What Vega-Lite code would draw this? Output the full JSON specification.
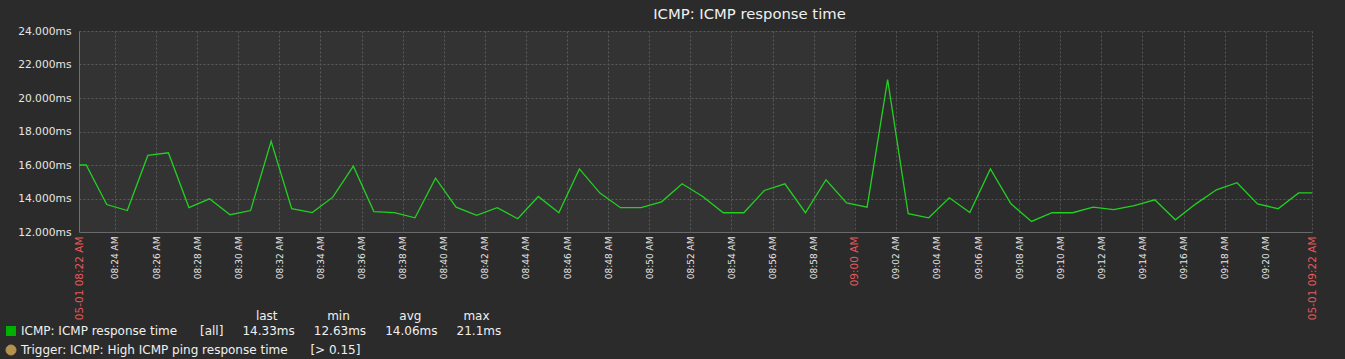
{
  "$schema": "https://vega.github.io/schema/vega-lite/v6.json",
  "width": 1233,
  "height": 201,
  "autosize": {"type": "none"},
  "padding": {"left": 79, "top": 31, "right": 33, "bottom": 127},
  "background": "#2b2b2b",
  "title": {
    "text": "ICMP: ICMP response time",
    "anchor": "middle",
    "frame": "group",
    "dx": 54,
    "offset": 3,
    "font": "DejaVu Sans",
    "fontSize": 14.8,
    "fontWeight": "normal",
    "color": "#f0f0f0"
  },
  "config": {
    "view": {"fill": "#2c2c2c", "stroke": null},
    "font": "DejaVu Sans"
  },
  "datasets": {
    "series": [
      {"t": "2024-05-01T08:22:15", "v": 16.0},
      {"t": "2024-05-01T08:22:36", "v": 16.0},
      {"t": "2024-05-01T08:23:36", "v": 13.64},
      {"t": "2024-05-01T08:24:36", "v": 13.28},
      {"t": "2024-05-01T08:25:36", "v": 16.57},
      {"t": "2024-05-01T08:26:36", "v": 16.73},
      {"t": "2024-05-01T08:27:36", "v": 13.46},
      {"t": "2024-05-01T08:28:36", "v": 13.98},
      {"t": "2024-05-01T08:29:36", "v": 13.03},
      {"t": "2024-05-01T08:30:36", "v": 13.28},
      {"t": "2024-05-01T08:31:36", "v": 17.42},
      {"t": "2024-05-01T08:32:36", "v": 13.39},
      {"t": "2024-05-01T08:33:36", "v": 13.16},
      {"t": "2024-05-01T08:34:36", "v": 14.08},
      {"t": "2024-05-01T08:35:36", "v": 15.93},
      {"t": "2024-05-01T08:36:36", "v": 13.22},
      {"t": "2024-05-01T08:37:36", "v": 13.16},
      {"t": "2024-05-01T08:38:36", "v": 12.85},
      {"t": "2024-05-01T08:39:36", "v": 15.21},
      {"t": "2024-05-01T08:40:36", "v": 13.48},
      {"t": "2024-05-01T08:41:36", "v": 12.99},
      {"t": "2024-05-01T08:42:36", "v": 13.45},
      {"t": "2024-05-01T08:43:36", "v": 12.79},
      {"t": "2024-05-01T08:44:36", "v": 14.12},
      {"t": "2024-05-01T08:45:36", "v": 13.15},
      {"t": "2024-05-01T08:46:36", "v": 15.77},
      {"t": "2024-05-01T08:47:36", "v": 14.32},
      {"t": "2024-05-01T08:48:36", "v": 13.45},
      {"t": "2024-05-01T08:49:36", "v": 13.45},
      {"t": "2024-05-01T08:50:36", "v": 13.8},
      {"t": "2024-05-01T08:51:36", "v": 14.88},
      {"t": "2024-05-01T08:52:36", "v": 14.12},
      {"t": "2024-05-01T08:53:36", "v": 13.15},
      {"t": "2024-05-01T08:54:36", "v": 13.15},
      {"t": "2024-05-01T08:55:36", "v": 14.48},
      {"t": "2024-05-01T08:56:36", "v": 14.88},
      {"t": "2024-05-01T08:57:36", "v": 13.15},
      {"t": "2024-05-01T08:58:36", "v": 15.12},
      {"t": "2024-05-01T08:59:36", "v": 13.74},
      {"t": "2024-05-01T09:00:36", "v": 13.48},
      {"t": "2024-05-01T09:01:36", "v": 21.1},
      {"t": "2024-05-01T09:02:36", "v": 13.09},
      {"t": "2024-05-01T09:03:36", "v": 12.85},
      {"t": "2024-05-01T09:04:36", "v": 14.04},
      {"t": "2024-05-01T09:05:36", "v": 13.16},
      {"t": "2024-05-01T09:06:36", "v": 15.77},
      {"t": "2024-05-01T09:07:36", "v": 13.68},
      {"t": "2024-05-01T09:08:36", "v": 12.63},
      {"t": "2024-05-01T09:09:36", "v": 13.15},
      {"t": "2024-05-01T09:10:36", "v": 13.15},
      {"t": "2024-05-01T09:11:36", "v": 13.48},
      {"t": "2024-05-01T09:12:36", "v": 13.34},
      {"t": "2024-05-01T09:13:36", "v": 13.58},
      {"t": "2024-05-01T09:14:36", "v": 13.92},
      {"t": "2024-05-01T09:15:36", "v": 12.73},
      {"t": "2024-05-01T09:16:36", "v": 13.68},
      {"t": "2024-05-01T09:17:36", "v": 14.52},
      {"t": "2024-05-01T09:18:36", "v": 14.94},
      {"t": "2024-05-01T09:19:36", "v": 13.68},
      {"t": "2024-05-01T09:20:36", "v": 13.39},
      {"t": "2024-05-01T09:21:36", "v": 14.33},
      {"t": "2024-05-01T09:22:15", "v": 14.33}
    ],
    "period": [
      {"start": "2024-05-01T08:22:15", "end": "2024-05-01T09:00:00"}
    ]
  },
  "layer": [
    {
      "data": {"name": "period"},
      "mark": {"type": "rect", "color": "#ffffff", "opacity": 0.035},
      "encoding": {
        "x": {"field": "start", "type": "temporal", "scale": {"domain": [{"year": 2024, "month": 5, "date": 1, "hours": 8, "minutes": 22, "seconds": 15}, {"year": 2024, "month": 5, "date": 1, "hours": 9, "minutes": 22, "seconds": 15}]}},
        "x2": {"field": "end"}
      }
    },
    {
      "data": {"name": "series"},
      "transform": [{"calculate": "'ICMP: ICMP response time'", "as": "s"}],
      "mark": {"type": "line", "strokeWidth": 1.3, "interpolate": "linear"},
      "encoding": {
        "x": {
          "field": "t",
          "type": "temporal",
          "scale": {"domain": [{"year": 2024, "month": 5, "date": 1, "hours": 8, "minutes": 22, "seconds": 15}, {"year": 2024, "month": 5, "date": 1, "hours": 9, "minutes": 22, "seconds": 15}]},
          "axis": {
            "title": null,
            "values": [
              {"year": 2024, "month": 5, "date": 1, "hours": 8, "minutes": 22, "seconds": 15},
              {"year": 2024, "month": 5, "date": 1, "hours": 8, "minutes": 24},
              {"year": 2024, "month": 5, "date": 1, "hours": 8, "minutes": 26},
              {"year": 2024, "month": 5, "date": 1, "hours": 8, "minutes": 28},
              {"year": 2024, "month": 5, "date": 1, "hours": 8, "minutes": 30},
              {"year": 2024, "month": 5, "date": 1, "hours": 8, "minutes": 32},
              {"year": 2024, "month": 5, "date": 1, "hours": 8, "minutes": 34},
              {"year": 2024, "month": 5, "date": 1, "hours": 8, "minutes": 36},
              {"year": 2024, "month": 5, "date": 1, "hours": 8, "minutes": 38},
              {"year": 2024, "month": 5, "date": 1, "hours": 8, "minutes": 40},
              {"year": 2024, "month": 5, "date": 1, "hours": 8, "minutes": 42},
              {"year": 2024, "month": 5, "date": 1, "hours": 8, "minutes": 44},
              {"year": 2024, "month": 5, "date": 1, "hours": 8, "minutes": 46},
              {"year": 2024, "month": 5, "date": 1, "hours": 8, "minutes": 48},
              {"year": 2024, "month": 5, "date": 1, "hours": 8, "minutes": 50},
              {"year": 2024, "month": 5, "date": 1, "hours": 8, "minutes": 52},
              {"year": 2024, "month": 5, "date": 1, "hours": 8, "minutes": 54},
              {"year": 2024, "month": 5, "date": 1, "hours": 8, "minutes": 56},
              {"year": 2024, "month": 5, "date": 1, "hours": 8, "minutes": 58},
              {"year": 2024, "month": 5, "date": 1, "hours": 9, "minutes": 0},
              {"year": 2024, "month": 5, "date": 1, "hours": 9, "minutes": 2},
              {"year": 2024, "month": 5, "date": 1, "hours": 9, "minutes": 4},
              {"year": 2024, "month": 5, "date": 1, "hours": 9, "minutes": 6},
              {"year": 2024, "month": 5, "date": 1, "hours": 9, "minutes": 8},
              {"year": 2024, "month": 5, "date": 1, "hours": 9, "minutes": 10},
              {"year": 2024, "month": 5, "date": 1, "hours": 9, "minutes": 12},
              {"year": 2024, "month": 5, "date": 1, "hours": 9, "minutes": 14},
              {"year": 2024, "month": 5, "date": 1, "hours": 9, "minutes": 16},
              {"year": 2024, "month": 5, "date": 1, "hours": 9, "minutes": 18},
              {"year": 2024, "month": 5, "date": 1, "hours": 9, "minutes": 20},
              {"year": 2024, "month": 5, "date": 1, "hours": 9, "minutes": 22, "seconds": 15}
            ],
            "labelExpr": "seconds(datum.value) == 15 ? '05-01 ' + timeFormat(datum.value, '%I:%M %p') : timeFormat(datum.value, '%I:%M %p')",
            "labelAngle": -90,
            "labelOverlap": false,
            "labelFlush": false,
            "labelBound": false,
            "labelPadding": 4,
            "labelFont": "DejaVu Sans",
            "labelFontSize": {"condition": {"test": "seconds(datum.value) == 15 || (hours(datum.value) == 9 && minutes(datum.value) == 0)", "value": 10.5}, "value": 9},
            "labelColor": {"condition": {"test": "seconds(datum.value) == 15 || (hours(datum.value) == 9 && minutes(datum.value) == 0)", "value": "#e45959"}, "value": "#e6e6e6"},
            "ticks": false,
            "grid": true,
            "gridColor": "#555555",
            "gridDash": [2, 2],
            "gridWidth": 1,
            "domainColor": "#6a6a6a",
            "domainWidth": 1
          }
        },
        "y": {
          "field": "v",
          "type": "quantitative",
          "scale": {"domain": [12, 24], "nice": false, "zero": false},
          "axis": {
            "title": null,
            "values": [12, 14, 16, 18, 20, 22, 24],
            "labelExpr": "format(datum.value, '.3f') + 'ms'",
            "labelFont": "DejaVu Sans",
            "labelFontSize": 10.7,
            "labelColor": "#e6e6e6",
            "labelPadding": 8,
            "ticks": false,
            "grid": true,
            "gridColor": "#555555",
            "gridDash": [2, 2],
            "domainColor": "#6a6a6a"
          }
        },
        "color": {
          "field": "s",
          "type": "nominal",
          "scale": {
            "domain": ["ICMP: ICMP response time", "Trigger: ICMP: High ICMP ping response time"],
            "range": ["#22d022", "#b8914f"]
          },
          "legend": {
            "orient": "none",
            "legendX": -74,
            "legendY": 280,
            "direction": "vertical",
            "title": "last\u00a0\u00a0\u00a0\u00a0\u00a0\u00a0\u00a0\u00a0\u00a0\u00a0\u00a0\u00a0\u00a0min\u00a0\u00a0\u00a0\u00a0\u00a0\u00a0\u00a0\u00a0\u00a0\u00a0\u00a0\u00a0\u00a0avg\u00a0\u00a0\u00a0\u00a0\u00a0\u00a0\u00a0\u00a0\u00a0\u00a0\u00a0max\u00a0\u00a0\u00a0\u200b",
            "titleAnchor": "end",
            "titleFont": "DejaVu Sans",
            "titleFontSize": 12,
            "titleFontWeight": "normal",
            "titleColor": "#f0f0f0",
            "titleLimit": 1000,
            "titlePadding": 2,
            "labelFont": "DejaVu Sans",
            "labelFontSize": 12,
            "labelColor": "#f0f0f0",
            "labelLimit": 1000,
            "labelOffset": 4,
            "rowPadding": 6,
            "symbolSize": 100,
            "symbolStrokeColor": "#1a1a1a",
            "symbolStrokeWidth": 1,
            "symbolOpacity": 1,
            "labelExpr": "datum.label == 'ICMP: ICMP response time' ? 'ICMP: ICMP response time\u00a0\u00a0\u00a0\u00a0\u00a0\u00a0[all]\u00a0\u00a0\u00a0\u00a0\u00a014.33ms\u00a0\u00a0\u00a0\u00a0\u00a012.63ms\u00a0\u00a0\u00a0\u00a0\u00a014.06ms\u00a0\u00a0\u00a0\u00a0\u00a021.1ms' : 'Trigger: ICMP: High ICMP ping response time\u00a0\u00a0\u00a0\u00a0\u00a0\u00a0[> 0.15]'",
            "encode": {
              "symbols": {
                "update": {
                  "shape": {"signal": "datum.value == 'ICMP: ICMP response time' ? 'square' : 'circle'"},
                  "fill": {"signal": "datum.value == 'ICMP: ICMP response time' ? '#00b000' : '#b3914f'"},
                  "strokeWidth": {"signal": "datum.value == 'ICMP: ICMP response time' ? 0 : 1"}
                }
              }
            }
          }
        }
      }
    }
  ]
}
